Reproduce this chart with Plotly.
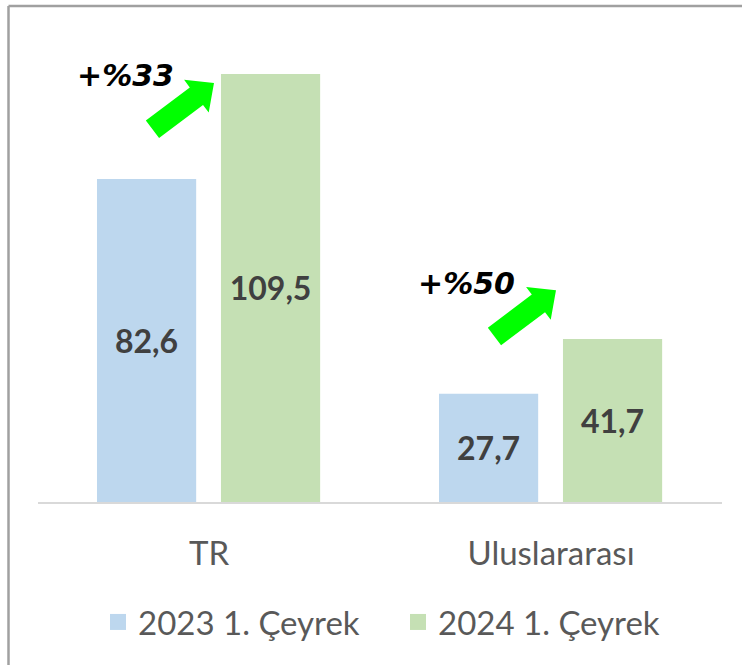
import math
import plotly.graph_objects as go

# ---- data ----
categories = ["TR", "Uluslararası"]
series_names = ["2023 1. Çeyrek", "2024 1. Çeyrek"]
values_2023 = [82.6, 27.7]
values_2024 = [109.5, 41.7]
growth_labels = ["+%33", "+%50"]

# ---- layout constants ----
W, H = 742, 665
ML, MR, MT, MB = 38, 20, 30, 163
PW = W - ML - MR
PH = H - MT - MB
Y_MAX = 120.75
X_RANGE = (-0.5, 1.5)

BLUE = "#BDD7EE"
GREEN = "#C5E0B4"
ARROW = "#00FF00"
TEXT = "#595959"
LABEL = "#404040"
FONT = "Lato"


def px_x(xd):
    return ML + (xd - X_RANGE[0]) / (X_RANGE[1] - X_RANGE[0]) * PW


def px_y(yd):
    return H - MB - yd / Y_MAX * PH


def paper_x(px):
    return (px - ML) / PW


def paper_y(py):
    return (H - MB - py) / PH


fig = go.Figure()
bar_width = 0.29
offsets = [-0.3275, 0.035]
colors = [BLUE, GREEN]
for name, vals, off, col in zip(series_names, [values_2023, values_2024], offsets, colors):
    fig.add_trace(go.Bar(
        x=categories, y=vals, name=name, width=bar_width, offset=off,
        marker=dict(color=col, line=dict(width=0)),
        texttemplate="%{y:.1f}", textposition="inside", insidetextanchor="middle",
        textangle=0,
        textfont=dict(family=FONT, size=32, color=LABEL, weight="bold"),
        showlegend=False, hoverinfo="skip",
    ))
    fig.add_trace(go.Scatter(
        x=[None], y=[None], mode="markers", name=name,
        marker=dict(symbol="square", size=20, color=col),
        showlegend=True,
    ))

# growth arrows (positions in data units: category index offset, value)
arrow_tips = [(0.0146, 107.2), (1.0146, 54.2)]
text_pos = [(-0.2456, 109.2), (0.7515, 56.0)]
shapes = []
for (tx, ty) in arrow_tips:
    tip = (px_x(tx), px_y(ty))
    dx, dy = 60.5, -45.5
    ln = math.hypot(dx, dy)
    ux, uy = dx / ln, dy / ln
    nx, ny = -uy, ux
    total, hl, hw, sw = 77, 22, 41, 22
    tail = (tip[0] - total * ux, tip[1] - total * uy)
    neck = (tip[0] - hl * ux, tip[1] - hl * uy)
    pts = [
        (tail[0] + nx * sw / 2, tail[1] + ny * sw / 2),
        (neck[0] + nx * sw / 2, neck[1] + ny * sw / 2),
        (neck[0] + nx * hw / 2, neck[1] + ny * hw / 2),
        tip,
        (neck[0] - nx * hw / 2, neck[1] - ny * hw / 2),
        (neck[0] - nx * sw / 2, neck[1] - ny * sw / 2),
        (tail[0] - nx * sw / 2, tail[1] - ny * sw / 2),
    ]
    path = "M " + " L ".join(f"{paper_x(p[0]):.5f},{paper_y(p[1]):.5f}" for p in pts) + " Z"
    shapes.append(dict(type="path", xref="paper", yref="paper", path=path,
                       fillcolor=ARROW, line=dict(width=0)))

# outer frame (top and left edges visible)
frame_x, frame_y = 8.5, 6
shapes.append(dict(type="line", xref="paper", yref="paper",
                   x0=paper_x(frame_x), y0=paper_y(frame_y), x1=paper_x(W), y1=paper_y(frame_y),
                   line=dict(color="#a0a0a0", width=2.5)))
shapes.append(dict(type="line", xref="paper", yref="paper",
                   x0=paper_x(frame_x), y0=paper_y(frame_y), x1=paper_x(frame_x), y1=paper_y(H),
                   line=dict(color="#a0a0a0", width=2.5)))

annotations = []
for lab, (x, y) in zip(growth_labels, text_pos):
    annotations.append(dict(
        x=paper_x(px_x(x)), y=paper_y(px_y(y)), xref="paper", yref="paper",
        text=lab, showarrow=False, xanchor="center", yanchor="middle",
        font=dict(family="DejaVu Sans", size=30, color="black", weight="bold", style="italic"),
    ))

fig.update_layout(
    width=W, height=H,
    margin=dict(l=ML, r=MR, t=MT, b=MB, autoexpand=False),
    paper_bgcolor="white", plot_bgcolor="white",
    barmode="overlay",
    separators=",.",
    shapes=shapes, annotations=annotations,
    showlegend=True,
    legend=dict(orientation="h", x=paper_x(98), y=paper_y(622), xanchor="left", yanchor="middle",
                font=dict(family=FONT, size=33, color=TEXT), itemclick=False,
                entrywidth=255, entrywidthmode="pixels",
                bgcolor="rgba(0,0,0,0)"),
    xaxis=dict(range=list(X_RANGE), showline=True, linecolor="#d9d9d9", linewidth=1.5,
               ticks="outside", ticklen=22, tickcolor="rgba(0,0,0,0)",
               tickfont=dict(family=FONT, size=33, color=TEXT), showgrid=False, fixedrange=True),
    yaxis=dict(range=[0, Y_MAX], visible=False, showgrid=False, zeroline=False, fixedrange=True),
)

fig.write_html("out.html", config={"displayModeBar": False},
               post_script="document.body.style.margin='0';document.body.style.overflow='hidden';")
